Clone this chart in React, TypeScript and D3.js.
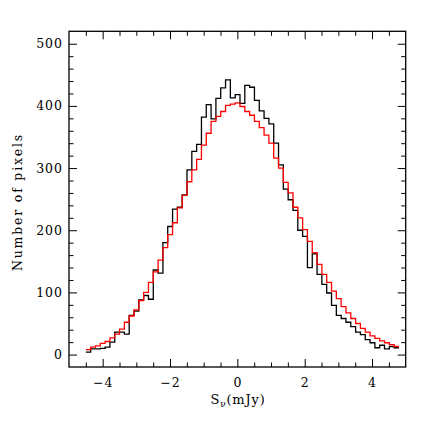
import React, { useEffect, useRef } from "react";
import * as d3 from "d3";

// histogram range (mJy) and counts per bin
const binStart = -4.5;
const binEnd = 4.8;

// observed pixel counts (black)
const observed = [
  4, 9, 9, 10, 12, 20, 36, 36, 33, 63,
  70, 88, 95, 89, 136, 131, 180, 206, 234, 237,
  257, 297, 327, 338, 382, 402, 379, 412, 429, 442,
  413, 418, 404, 433, 430, 409, 392, 380, 371, 340,
  305, 266, 249, 232, 200, 190, 140, 162, 129, 113,
  99, 79, 63, 58, 52, 45, 36, 32, 24, 19,
  11, 15, 9, 13, 11,
];

// expected counts (red)
const model = [
  8, 12, 14, 18, 21, 27, 33, 41, 52, 62,
  72, 87, 100, 116, 133, 152, 172, 193, 212, 236,
  256, 278, 297, 314, 337, 356, 375, 383, 391, 401,
  403, 405, 399, 391, 385, 375, 365, 353, 340, 316,
  300, 277, 260, 237, 220, 201, 182, 164, 145, 129,
  116, 102, 90, 77, 67, 58, 50, 42, 36, 30,
  26, 22, 19, 16, 13,
];

const xMajor = [-4, -2, 0, 2, 4];
const yMajor = [0, 100, 200, 300, 400, 500];

const W = 436;
const H = 446;
const left = 69, right = 405.7, top = 31.3, bottom = 367;
const FONT = "'DejaVu Serif', 'Liberation Serif', serif";

export default function App() {
  const svgRef = useRef<SVGSVGElement>(null);

  useEffect(() => {
    const svg = d3.select(svgRef.current);
    svg.selectAll("*").remove();

    const x = d3.scaleLinear().domain([-5, 5]).range([left, right]);
    const y = d3.scaleLinear().domain([-20, 520]).range([bottom, top]);

    const xMinor = d3.range(-4.5, 4.6, 0.5).filter((v) => !xMajor.includes(Math.round(v * 10) / 10));
    const yMinor = d3.range(20, 520, 20).filter((v) => v % 100 !== 0);

    // histograms as step outlines
    const step = d3
      .line<[number, number]>()
      .x((d) => x(d[0]))
      .y((d) => y(d[1]))
      .curve(d3.curveStepAfter);

    const toPts = (counts: number[]) => {
      const w = (binEnd - binStart) / counts.length;
      const pts: [number, number][] = counts.map((c, i) => [binStart + i * w, c]);
      pts.push([binEnd, counts[counts.length - 1]]);
      return pts;
    };

    svg.append("path").attr("d", step(toPts(observed))).attr("fill", "none")
      .attr("stroke", "#000").attr("stroke-width", 1.3);
    svg.append("path").attr("d", step(toPts(model))).attr("fill", "none")
      .attr("stroke", "#ff0000").attr("stroke-width", 1.3);

    // axes, ticks pointing inward on all four sides
    const styleAxis = (g: any) => {
      g.select(".domain").remove();
      g.selectAll("line").attr("stroke", "#000").attr("stroke-width", 1);
      g.attr("font-family", FONT).attr("font-size", 12.5);
      g.selectAll("text").attr("fill", "#000").attr("letter-spacing", 1);
    };

    svg.append("g").attr("transform", `translate(0,${bottom})`)
      .call(d3.axisBottom(x).tickValues(xMajor).tickSize(-8).tickPadding(11.5)).call(styleAxis);
    svg.append("g").attr("transform", `translate(0,${bottom})`)
      .call(d3.axisBottom(x).tickValues(xMinor).tickSize(-4.5).tickFormat(() => "")).call(styleAxis);
    svg.append("g").attr("transform", `translate(0,${top})`)
      .call(d3.axisTop(x).tickValues(xMajor).tickSize(-8).tickFormat(() => "")).call(styleAxis);
    svg.append("g").attr("transform", `translate(0,${top})`)
      .call(d3.axisTop(x).tickValues(xMinor).tickSize(-4.5).tickFormat(() => "")).call(styleAxis);

    svg.append("g").attr("transform", `translate(${left},0)`)
      .call(d3.axisLeft(y).tickValues(yMajor).tickSize(-8).tickPadding(6)).call(styleAxis);
    svg.append("g").attr("transform", `translate(${left},0)`)
      .call(d3.axisLeft(y).tickValues(yMinor).tickSize(-4.5).tickFormat(() => "")).call(styleAxis);
    svg.append("g").attr("transform", `translate(${right},0)`)
      .call(d3.axisRight(y).tickValues(yMajor).tickSize(-8).tickFormat(() => "")).call(styleAxis);
    svg.append("g").attr("transform", `translate(${right},0)`)
      .call(d3.axisRight(y).tickValues(yMinor).tickSize(-4.5).tickFormat(() => "")).call(styleAxis);

    // frame
    svg.append("rect").attr("x", left).attr("y", top)
      .attr("width", right - left).attr("height", bottom - top)
      .attr("fill", "none").attr("stroke", "#000").attr("stroke-width", 1.3);

    // axis titles
    const xt = svg.append("text").attr("x", 238).attr("y", 404)
      .attr("text-anchor", "middle").attr("font-family", FONT).attr("font-size", 13)
      .attr("letter-spacing", 0.8);
    xt.append("tspan").text("S");
    xt.append("tspan").attr("font-size", 9).attr("dy", 3).text("ν");
    xt.append("tspan").attr("dy", -3).text("(mJy)");

    svg.append("text")
      .attr("transform", `translate(22,202) rotate(-90)`)
      .attr("text-anchor", "middle")
      .attr("font-family", FONT).attr("font-size", 12.5)
      .attr("letter-spacing", 1.8)
      .text("Number of pixels");
  }, []);

  return (
    <svg ref={svgRef} width={W} height={H}
      style={{ position: "absolute", left: 0, top: 0, background: "#fff" }} />
  );
}
